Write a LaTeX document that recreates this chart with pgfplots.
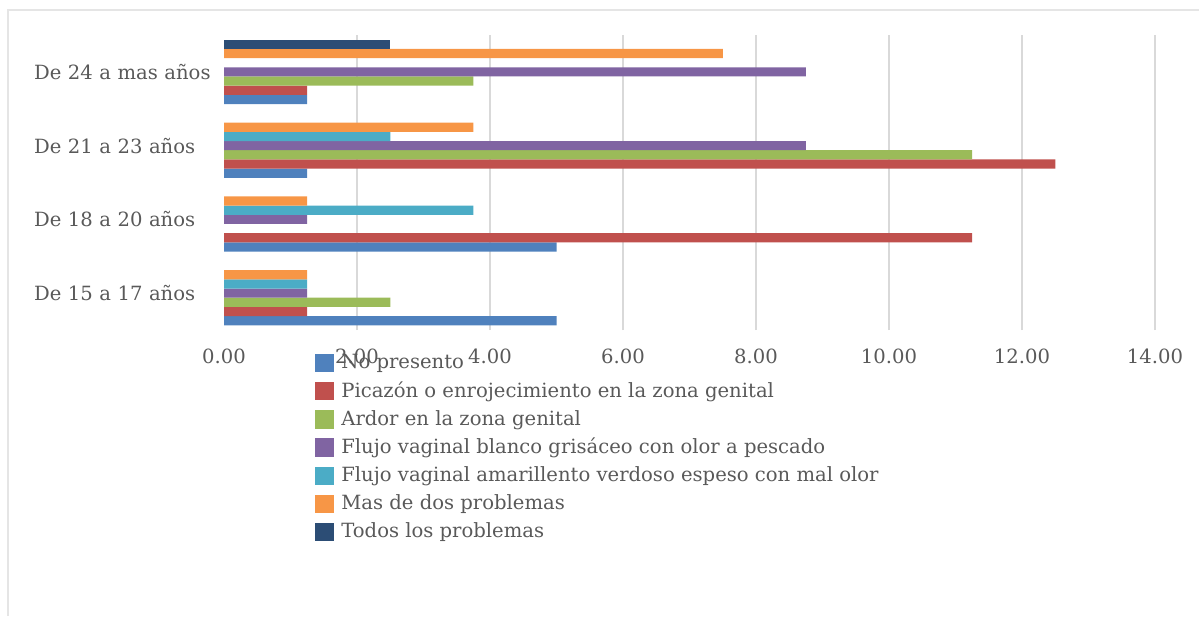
\documentclass[border=0pt]{standalone}
\usepackage{fontspec}
\setmainfont{DejaVu Serif}
\usepackage{pgfplots}
\pgfplotsset{compat=1.18}
\definecolor{c1}{HTML}{4F81BD}
\definecolor{c2}{HTML}{C0504D}
\definecolor{c3}{HTML}{9BBB59}
\definecolor{c4}{HTML}{8064A2}
\definecolor{c5}{HTML}{4BACC6}
\definecolor{c6}{HTML}{F79646}
\definecolor{c7}{HTML}{2C4D75}
\definecolor{txt}{HTML}{595959}
\definecolor{gridc}{HTML}{D9D9D9}
\begin{document}
\begin{tikzpicture}[font=\fontsize{9.8}{11.5}\selectfont]
\path[use as bounding box] (0,0) rectangle (599.5pt,308pt);
\draw[color=black!10, line width=1pt] (4pt,0) -- (4pt,303pt) -- (599.5pt,303pt);
\begin{axis}[
  at={(112pt,143pt)}, anchor=south west,
  scale only axis, width=465.5pt, height=147.5pt,
  xmin=0, xmax=14, ymin=-0.5, ymax=3.5,
  xbar, bar width=0.125,
  axis line style={draw=none},
  tick style={draw=none},
  xmajorgrids, major grid style={gridc, line width=0.6pt},
  xtick={2,4,6,8,10,12,14},
  extra x ticks={0}, extra x tick style={grid=none},
  extra x tick labels={0.00},
  xticklabels={2.00,4.00,6.00,8.00,10.00,12.00,14.00},
  xticklabel style={text=txt, yshift=-6pt},
  ytick={0,1,2,3},
  yticklabels={De 15 a 17 años, De 18 a 20 años, De 21 a 23 años, De 24 a mas años},
  yticklabel style={text=txt, inner sep=0pt, text width=95pt, align=left, xshift=4.5pt},
  legend style={at={(0.0977,-0.068)}, anchor=north west, draw=none, fill=none,
    inner sep=0pt, row sep=1pt, text=txt, font=\fontsize{9.8}{11.5}\selectfont},
  legend cell align=left,
  legend image code/.code={\path[#1, draw=none] (0pt,-4.6pt) rectangle (9.2pt,4.6pt); \path (11pt,0pt);},
]
\addplot[fill=c1, draw=none, bar shift=-0.375] coordinates {(5,0) (5,1) (1.25,2) (1.25,3)};
\addplot[fill=c2, draw=none, bar shift=-0.25] coordinates {(1.25,0) (11.25,1) (12.5,2) (1.25,3)};
\addplot[fill=c3, draw=none, bar shift=-0.125] coordinates {(2.5,0) (11.25,2) (3.75,3)};
\addplot[fill=c4, draw=none, bar shift=0] coordinates {(1.25,0) (1.25,1) (8.75,2) (8.75,3)};
\addplot[fill=c5, draw=none, bar shift=0.125] coordinates {(1.25,0) (3.75,1) (2.5,2)};
\addplot[fill=c6, draw=none, bar shift=0.25] coordinates {(1.25,0) (1.25,1) (3.75,2) (7.5,3)};
\addplot[fill=c7, draw=none, bar shift=0.375] coordinates {(2.5,3)};
\legend{No presento, Picazón o enrojecimiento en la zona genital, Ardor en la zona genital, Flujo vaginal blanco grisáceo con olor a pescado, Flujo vaginal amarillento verdoso espeso con mal olor, Mas de dos problemas, Todos los problemas}
\end{axis}
\end{tikzpicture}
\end{document}
